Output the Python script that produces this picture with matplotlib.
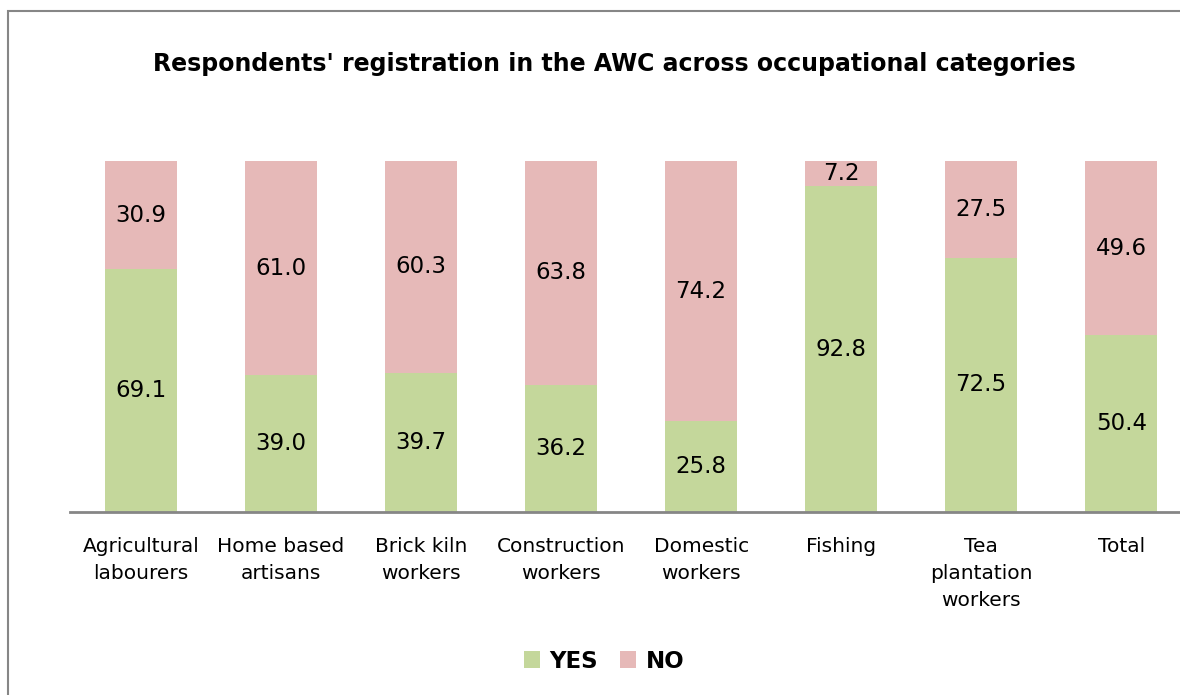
import numpy as np
import matplotlib.pyplot as plt
from matplotlib.patches import Rectangle

# Occupational categories and registration shares (%)
categories = ["Agricultural\nlabourers", "Home based\nartisans", "Brick kiln\nworkers",
              "Construction\nworkers", "Domestic\nworkers", "Fishing",
              "Tea\nplantation\nworkers", "Total"]
yes_vals = [69.1, 39.0, 39.7, 36.2, 25.8, 92.8, 72.5, 50.4]
no_vals = [30.9, 61.0, 60.3, 63.8, 74.2, 7.2, 27.5, 49.6]

green = "#C4D79B"
pink = "#E6B9B8"
grey = "#868686"

fig = plt.figure(figsize=(11.8, 6.95), dpi=100)
ax = fig.add_axes([70 / 1180, 183 / 695, 1110 / 1180, 351 / 695])

x = np.arange(len(categories))
w = 0.514
b1 = ax.bar(x, yes_vals, w, color=green, label="YES")
b2 = ax.bar(x, no_vals, w, bottom=yes_vals, color=pink, label="NO")

for rect, v in zip(b1, yes_vals):
    ax.text(rect.get_x() + rect.get_width() / 2, v / 2, f"{v:.1f}",
            ha="center", va="center", fontsize=16.5)
for rect, y0, v in zip(b2, yes_vals, no_vals):
    ax.text(rect.get_x() + rect.get_width() / 2, y0 + v / 2, f"{v:.1f}",
            ha="center", va="center", fontsize=16.5)

ax.set_xlim(-0.507, 7.42)
ax.set_ylim(0, 100)
ax.set_yticks([])
ax.set_xticks(x)
ax.set_xticklabels(categories, fontsize=14.5, linespacing=1.55)
ax.tick_params(axis="x", length=0, pad=18)
for s in ["top", "right", "left"]:
    ax.spines[s].set_visible(False)
ax.spines["bottom"].set_color(grey)
ax.spines["bottom"].set_linewidth(2)

fig.text(614 / 1180, 1 - 64 / 695,
         "Respondents' registration in the AWC across occupational categories",
         ha="center", va="center", fontsize=17, fontweight="bold")

leg = fig.legend(handles=[b1, b2], loc="center", bbox_to_anchor=(604 / 1180, 1 - 661 / 695),
                 ncol=2, frameon=False, prop={"size": 16.5, "weight": "bold"},
                 handlelength=0.7, handleheight=0.7, handletextpad=0.4, columnspacing=1.0)

# outer chart frame
fig.patches.append(Rectangle((8 / 1180, -0.05), 1.2, 1 - 11 / 695 + 0.05,
                             transform=fig.transFigure, fill=False,
                             edgecolor=grey, linewidth=1.5))

fig.savefig("out.png", dpi=100)
